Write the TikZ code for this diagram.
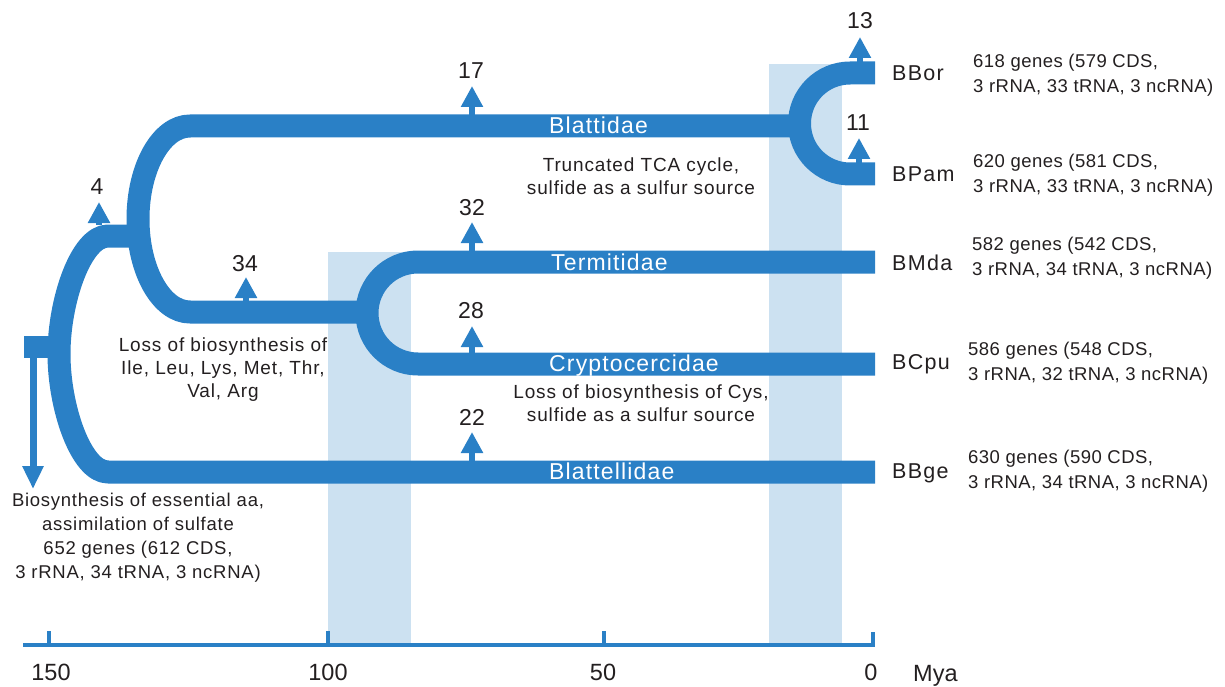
\documentclass[tikz,border=0pt]{standalone}
\usepackage{fontspec}
\setmainfont{Liberation Sans}
\newfontfamily\annfont[LetterSpace=4.5]{Liberation Sans}
\newfontfamily\rootfont[LetterSpace=4]{Liberation Sans}
\newfontfamily\genefont[LetterSpace=2.5]{Liberation Sans}
\newfontfamily\leaffont[LetterSpace=6]{Liberation Sans}
\newfontfamily\barfont[LetterSpace=5]{Liberation Sans}
\newfontfamily\numfont{Liberation Sans}
\usetikzlibrary{arrows.meta}
\definecolor{mainblue}{RGB}{42,128,198}
\definecolor{lightblue}{RGB}{204,225,241}
\definecolor{txt}{RGB}{35,31,32}
\begin{document}
\begin{tikzpicture}[x=1pt,y=-1pt,
  branch/.style={draw=mainblue, line width=23pt, line cap=butt, line join=round},
  change/.style={draw=mainblue, line width=6pt, -{Triangle[width=21pt,length=21pt]}},
  rootarrow/.style={draw=mainblue, line width=7pt, -{Triangle[width=20pt,length=23pt]}},
  period/.style={fill=lightblue, draw=none},
  axisline/.style={draw=mainblue, line width=4pt, line cap=butt, line join=miter},
  numlabel/.style={inner sep=0pt, text=txt, font=\numfont\fontsize{23}{27}\selectfont},
  axlabel/.style={inner sep=0pt, text=txt, font=\numfont\fontsize{23.5}{27}\selectfont},
  ann/.style={inner sep=0pt, text=txt, align=center, font=\annfont\fontsize{19}{23}\selectfont},
  gene/.style={inner sep=0pt, text=txt, align=left, anchor=west, font=\genefont\fontsize{18.5}{24.5}\selectfont},
  leaf/.style={inner sep=0pt, text=txt, anchor=west, font=\leaffont\fontsize{21.5}{25}\selectfont},
  barlabel/.style={inner sep=0pt, text=white, anchor=base west, font=\barfont\fontsize{23}{27}\selectfont}
]
\useasboundingbox (0,0) rectangle (1225,687);

% time periods
\path[period] (328,252) rectangle (411,645);
\path[period] (769,64) rectangle (842,645);

% time axis
\coordinate (axL) at (23,645);
\coordinate (axR) at (873,645);
\coordinate (axRt) at (873,632);
\draw[axisline] (axL) -- (axR) -- (axRt);
\coordinate (t150) at (49,645); \coordinate (t150t) at (49,631);
\coordinate (t100) at (328,645); \coordinate (t100t) at (328,631);
\coordinate (t50) at (604,645); \coordinate (t50t) at (604,631);
\draw[axisline] (t150) -- (t150t);
\draw[axisline] (t100) -- (t100t);
\draw[axisline] (t50) -- (t50t);
\node[axlabel, anchor=base] (l150) at (51,680) {150};
\node[axlabel, anchor=base] (l100) at (328,680) {100};
\node[axlabel, anchor=base] (l50) at (603,680) {50};
\node[axlabel, anchor=base] (l0) at (871,680) {0};
\node[axlabel, anchor=base west] (lmya) at (913,681) {Mya};

% root
\fill[mainblue] (24,336) rectangle (60,358);
\coordinate (rootA) at (33,357);
\coordinate (rootB) at (33,489);
\draw[rootarrow] (rootA) -- (rootB);
\draw[branch] (140,236) -- (108,236) .. controls (80.9,236) and (59,301) .. (59,354)
  .. controls (59,407) and (80.9,472) .. (108,472) -- (875,472);

% Blattidae + Termitidae/Cryptocercidae clade
\draw[branch] (800,126) -- (190,126) .. controls (161.3,126) and (138,167.6) .. (138,219)
  .. controls (138,270.4) and (161.3,312) .. (190,312) -- (368,312);

% BBor / BPam
\draw[branch] (875,73) -- (850,73) .. controls (822.1,73) and (799.5,95.6) .. (799.5,123.5)
  .. controls (799.5,151.4) and (822.1,174) .. (850,174) -- (875,174);

% Termitidae / Cryptocercidae
\draw[branch] (875,262) -- (418,262) .. controls (389.8,262) and (367,284.8) .. (367,313)
  .. controls (367,341.2) and (389.8,364) .. (418,364) -- (875,364);

% gene-loss arrows
\coordinate (a4) at (99,225); \coordinate (a4t) at (99,202);
\coordinate (a17) at (472,115); \coordinate (a17t) at (472,86);
\coordinate (a34) at (246,301); \coordinate (a34t) at (246,277);
\coordinate (a32) at (472,251); \coordinate (a32t) at (472,222);
\coordinate (a28) at (472,353); \coordinate (a28t) at (472,326);
\coordinate (a22) at (472,461); \coordinate (a22t) at (472,432);
\coordinate (a13) at (860,62); \coordinate (a13t) at (860,37);
\coordinate (a11) at (859,163); \coordinate (a11t) at (859,138);
\draw[change] (a4) -- (a4t);
\draw[change] (a17) -- (a17t);
\draw[change] (a34) -- (a34t);
\draw[change] (a32) -- (a32t);
\draw[change] (a28) -- (a28t);
\draw[change] (a22) -- (a22t);
\draw[change] (a13) -- (a13t);
\draw[change] (a11) -- (a11t);
\node[numlabel] (n4) at (97,187) {4};
\node[numlabel] (n17) at (471,71) {17};
\node[numlabel] (n34) at (245,264) {34};
\node[numlabel] (n32) at (472,208) {32};
\node[numlabel] (n28) at (471,311) {28};
\node[numlabel] (n22) at (472,417) {22};
\node[numlabel] (n13) at (860,21) {13};
\node[numlabel] (n11) at (858,123) {11};

% clade names on branches
\node[barlabel] (blattidae) at (549,133.5) {Blattidae};
\node[barlabel] (termitidae) at (551,270) {Termitidae};
\node[barlabel] (crypto) at (549,371.5) {Cryptocercidae};
\node[barlabel] (blattellidae) at (549,479.5) {Blattellidae};

% annotations
\node[ann] (tca) at (641,176) {Truncated TCA cycle,\\sulfide as a sulfur source};
\node[ann] (lossaa) at (223,370) {Loss of biosynthesis of\\Ile, Leu, Lys, Met, Thr,\\Val, Arg};
\node[ann] (losscys) at (641,403) {Loss of biosynthesis of Cys,\\sulfide as a sulfur source};
\node[ann, font=\rootfont\fontsize{18.5}{24}\selectfont] (rootann) at (138,538)
  {Biosynthesis of essential aa,\\assimilation of sulfate\\652 genes (612 CDS,\\3 rRNA, 34 tRNA, 3 ncRNA)};

% leaves
\node[leaf] (bbor) at (892,73) {BBor};
\node[leaf] (bpam) at (892,174) {BPam};
\node[leaf] (bmda) at (892,263) {BMda};
\node[leaf] (bcpu) at (892,364) {BCpu};
\node[leaf] (bbge) at (892,473) {BBge};
\node[gene] (gbor) at (973,75) {618 genes (579 CDS,\\3 rRNA, 33 tRNA, 3 ncRNA)};
\node[gene] (gpam) at (973,175) {620 genes (581 CDS,\\3 rRNA, 33 tRNA, 3 ncRNA)};
\node[gene] (gmda) at (972,258) {582 genes (542 CDS,\\3 rRNA, 34 tRNA, 3 ncRNA)};
\node[gene] (gcpu) at (968,363) {586 genes (548 CDS,\\3 rRNA, 32 tRNA, 3 ncRNA)};
\node[gene] (gbge) at (968,471) {630 genes (590 CDS,\\3 rRNA, 34 tRNA, 3 ncRNA)};
\end{tikzpicture}
\end{document}
